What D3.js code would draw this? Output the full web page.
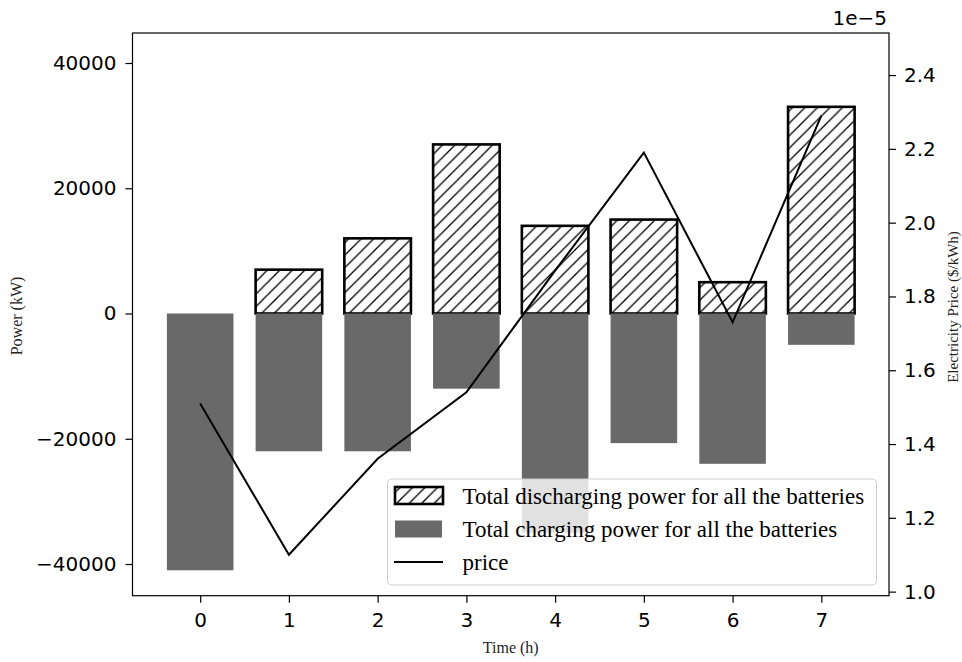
<!DOCTYPE html>
<meta charset="utf-8">
<style>

body {
  margin: 0;
  background: #fff;
}

.axis text {
  font-family: "DejaVu Sans", sans-serif;
  font-size: 20px;
  fill: #000;
}

.axis line {
  stroke: #000;
  stroke-width: 1.2;
}

.axis path {
  display: none;
}

.label {
  font-family: "Liberation Serif", "Times New Roman", serif;
  fill: #222;
}

.legend text {
  font-family: "Liberation Serif", "Times New Roman", serif;
  font-size: 23px;
  fill: #000;
}

</style>
<body>
<script src="https://d3js.org/d3.v7.min.js"></script>
<script>

// hours on the x axis
var hours = [0, 1, 2, 3, 4, 5, 6, 7];
// total discharging power (kW), plotted upward
var discharging = [0, 7000, 12000, 27000, 14000, 15000, 5000, 33000];
// total charging power (kW), plotted downward
var charging = [-41000, -22000, -22000, -12000, -35000, -20700, -24000, -5000];
// electricity price ($/kWh)
var price = [1.51e-5, 1.10e-5, 1.36e-5, 1.54e-5, 1.87e-5, 2.19e-5, 1.73e-5, 2.29e-5];

var powerTicks = [-40000, -20000, 0, 20000, 40000];
var priceTicks = [1.0e-5, 1.2e-5, 1.4e-5, 1.6e-5, 1.8e-5, 2.0e-5, 2.2e-5, 2.4e-5];
var legendLabels = ["Total discharging power for all the batteries",
                    "Total charging power for all the batteries",
                    "price"];

var width = 962, height = 662;
var plot = {left: 132.5, right: 889, top: 33, bottom: 595.7};
var barWidth = 0.75;

var svg = d3.select("body").append("svg")
    .attr("width", width)
    .attr("height", height);

var x = d3.scaleLinear()
    .domain([-0.7625, 7.7625])
    .range([plot.left, plot.right]);

var y = d3.scaleLinear()
    .domain([-45060, 44790])
    .range([plot.bottom, plot.top]);

var y2 = d3.scaleLinear()
    .domain([0.989e-5, 2.514e-5])
    .range([plot.bottom, plot.top]);

// hatch pattern for the discharging bars
var defs = svg.append("defs");
defs.append("pattern")
    .attr("id", "hatch")
    .attr("patternUnits", "userSpaceOnUse")
    .attr("width", 12.5)
    .attr("height", 12.5)
  .append("path")
    .attr("d", "M-3,3 L3,-3 M0,12.5 L12.5,0 M9.5,15.5 L15.5,9.5")
    .attr("stroke", "#000")
    .attr("stroke-width", 1.3);

// discharging bars
svg.append("g").selectAll("rect")
    .data(hours.filter(function(d) { return discharging[d] > 0; }))
  .enter().append("rect")
    .attr("x", function(d) { return x(d - barWidth / 2); })
    .attr("width", x(barWidth) - x(0))
    .attr("y", function(d) { return y(discharging[d]); })
    .attr("height", function(d) { return y(0) - y(discharging[d]); })
    .attr("fill", "url(#hatch)")
    .attr("stroke", "#000")
    .attr("stroke-width", 2.6);

// charging bars
svg.append("g").selectAll("rect")
    .data(hours)
  .enter().append("rect")
    .attr("x", function(d) { return x(d - barWidth / 2); })
    .attr("width", x(barWidth) - x(0))
    .attr("y", y(0))
    .attr("height", function(d) { return y(charging[d]) - y(0); })
    .attr("fill", "#696969");

// price line on the right axis
var line = d3.line()
    .x(function(d) { return x(d); })
    .y(function(d) { return y2(price[d]); });

svg.append("path")
    .datum(hours)
    .attr("d", line)
    .attr("fill", "none")
    .attr("stroke", "#000")
    .attr("stroke-width", 2);

// axes
svg.append("g")
    .attr("class", "axis")
    .attr("transform", "translate(" + plot.left + ",0)")
    .call(d3.axisLeft(y).tickValues(powerTicks).tickSize(7).tickPadding(9)
      .tickFormat(d3.format("d")));

svg.append("g")
    .attr("class", "axis")
    .attr("transform", "translate(" + plot.right + ",0)")
    .call(d3.axisRight(y2).tickValues(priceTicks).tickSize(7).tickPadding(8)
      .tickFormat(function(d) { return (d * 1e5).toFixed(1); }));

svg.append("g")
    .attr("class", "axis")
    .attr("transform", "translate(0," + plot.bottom + ")")
    .call(d3.axisBottom(x).tickValues(hours).tickSize(7).tickPadding(10)
      .tickFormat(d3.format("d")));

// frame
svg.append("rect")
    .attr("x", plot.left)
    .attr("y", plot.top)
    .attr("width", plot.right - plot.left)
    .attr("height", plot.bottom - plot.top)
    .attr("fill", "none")
    .attr("stroke", "#000")
    .attr("stroke-width", 1.2);

// offset text of the right axis
svg.append("text")
    .attr("x", 887)
    .attr("y", 25)
    .attr("text-anchor", "end")
    .style("font-family", "DejaVu Sans, sans-serif")
    .style("font-size", "20px")
    .text("1e\u22125");

// axis labels
svg.append("text")
    .attr("class", "label")
    .attr("x", (plot.left + plot.right) / 2)
    .attr("y", 653)
    .attr("text-anchor", "middle")
    .style("font-size", "16px")
    .text("Time (h)");

svg.append("text")
    .attr("class", "label")
    .attr("transform", "translate(22,316) rotate(-90)")
    .attr("text-anchor", "middle")
    .style("font-size", "16px")
    .text("Power (kW)");

svg.append("text")
    .attr("class", "label")
    .attr("transform", "translate(958,307) rotate(-90)")
    .attr("text-anchor", "middle")
    .style("font-size", "15px")
    .text("Electricity Price ($/kWh)");

// legend
var legend = svg.append("g").attr("class", "legend");

legend.append("rect")
    .attr("x", 387.5)
    .attr("y", 479)
    .attr("width", 489)
    .attr("height", 106)
    .attr("rx", 4)
    .attr("fill", "#fff")
    .attr("fill-opacity", 0.8)
    .attr("stroke", "#d0d0d0")
    .attr("stroke-width", 1);

var rowY = [495.5, 529, 562];

legend.append("rect")
    .attr("x", 395)
    .attr("y", rowY[0] - 8.5)
    .attr("width", 48)
    .attr("height", 17)
    .attr("fill", "url(#hatch)")
    .attr("stroke", "#000")
    .attr("stroke-width", 2.6);

legend.append("rect")
    .attr("x", 395)
    .attr("y", rowY[1] - 8.5)
    .attr("width", 47)
    .attr("height", 17)
    .attr("fill", "#696969");

legend.append("line")
    .attr("x1", 394)
    .attr("x2", 443)
    .attr("y1", rowY[2])
    .attr("y2", rowY[2])
    .attr("stroke", "#000")
    .attr("stroke-width", 2);

legend.selectAll("text.item")
    .data(legendLabels)
  .enter().append("text")
    .attr("class", "item")
    .attr("x", 462.5)
    .attr("y", function(d, i) { return rowY[i] + 8; })
    .text(function(d) { return d; });

</script>
